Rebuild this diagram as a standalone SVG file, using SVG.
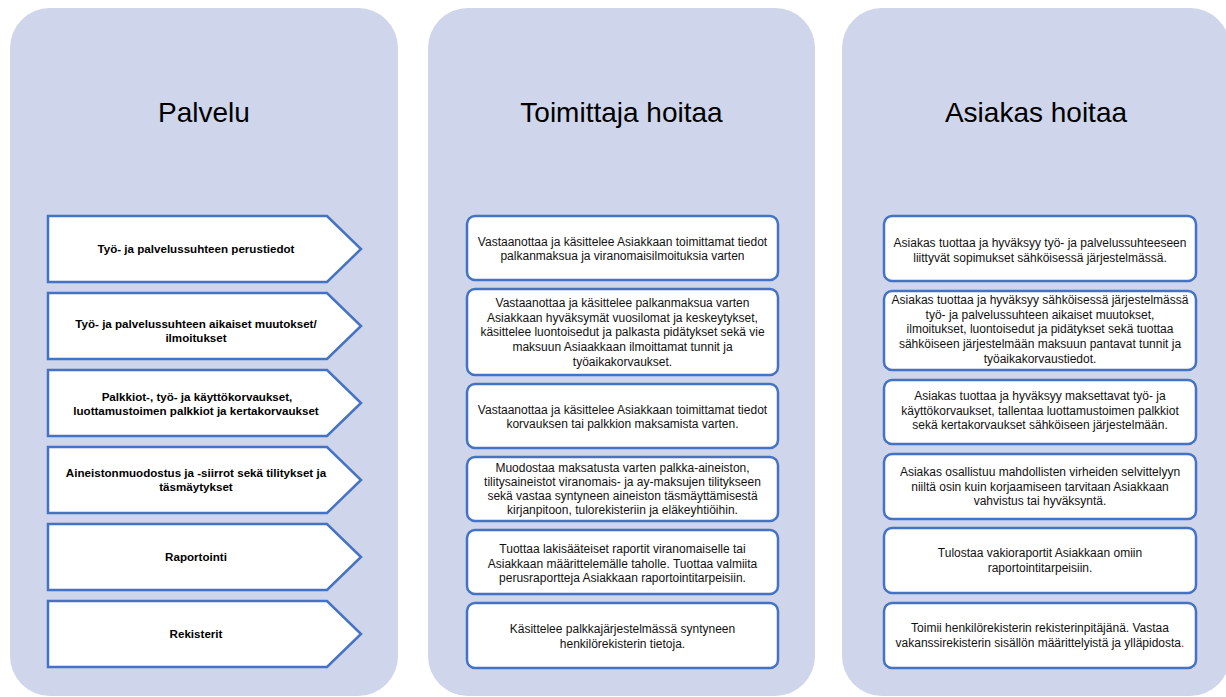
<svg xmlns="http://www.w3.org/2000/svg" width="1226" height="697" viewBox="0 0 1226 697">
<style>
.panel{fill:#CFD5EA}
.title{font-family:"Liberation Sans",Arial,sans-serif;font-size:28px;fill:#000;text-anchor:middle}
.arrow{fill:#fff;stroke:#4472C4;stroke-width:2.5;stroke-linejoin:miter}
.box{fill:#fff;stroke:#4472C4;stroke-width:2.5}
.at{font-family:"Liberation Sans",Arial,sans-serif;font-size:11.6px;font-weight:bold;fill:#000;text-anchor:middle}
.bt{font-family:"Liberation Sans",Arial,sans-serif;font-size:12px;fill:#111;text-anchor:middle}
.red{fill:#FF0000}
</style>
<rect width="1226" height="697" fill="#fff"/>
<g id="panel-palvelu">
<rect class="panel" x="10" y="8" width="388" height="688" rx="40"/>
<text class="title" x="204" y="122">Palvelu</text>
</g>
<g id="panel-toimittaja">
<rect class="panel" x="428" y="8" width="387" height="688" rx="40"/>
<text class="title" x="621.5" y="122">Toimittaja hoitaa</text>
</g>
<g id="panel-asiakas">
<rect class="panel" x="842" y="8" width="388" height="688" rx="40"/>
<text class="title" x="1036" y="122">Asiakas hoitaa</text>
</g>
<g id="connectors"/>
<g id="p1">
<polygon class="arrow" points="48,216 327,216 361,249 327,282 48,282"/>
<text class="at" x="196" y="253">Työ- ja palvelussuhteen perustiedot</text>
</g>
<g id="p2">
<polygon class="arrow" points="48,293 327,293 361,326 327,359 48,359"/>
<text class="at" x="196" y="328">Työ- ja palvelussuhteen aikaiset muutokset/</text>
<text class="at" x="196" y="342">ilmoitukset</text>
</g>
<g id="p3">
<polygon class="arrow" points="48,370 327,370 361,403 327,436 48,436"/>
<text class="at" x="197" y="401">Palkkiot-, työ- ja käyttökorvaukset,</text>
<text class="at" x="196" y="415">luottamustoimen palkkiot ja kertakorvaukset</text>
</g>
<g id="p4">
<polygon class="arrow" points="48,447 327,447 361,480 327,513 48,513"/>
<text class="at" x="196" y="477">Aineistonmuodostus ja -siirrot sekä tilitykset ja</text>
<text class="at" x="196" y="491">täsmäytykset</text>
</g>
<g id="p5">
<polygon class="arrow" points="48,524 327,524 361,557 327,590 48,590"/>
<text class="at" x="196" y="561">Raportointi</text>
</g>
<g id="p6">
<polygon class="arrow" points="48,601 327,601 361,634 327,667 48,667"/>
<text class="at" x="196" y="638">Rekisterit</text>
</g>
<g id="t1">
<rect class="box" x="467" y="216" width="311" height="64" rx="8"/>
<text class="bt" x="622.5" y="245.5">Vastaanottaa ja käsittelee Asiakkaan toimittamat tiedot</text>
<text class="bt" x="622.5" y="259.5">palkanmaksua ja viranomaisilmoituksia varten</text>
</g>
<g id="t2">
<rect class="box" x="467" y="289" width="311" height="86" rx="8"/>
<text class="bt" x="622.5" y="307">Vastaanottaa ja käsittelee palkanmaksua varten</text>
<text class="bt" x="622.5" y="321.7">Asiakkaan hyväksymät vuosilomat ja keskeytykset,</text>
<text class="bt" x="622.5" y="336.4">käsittelee luontoisedut ja palkasta pidätykset sekä vie</text>
<text class="bt" x="622.5" y="351.1">maksuun Asiaakkaan ilmoittamat tunnit ja</text>
<text class="bt" x="622.5" y="365.8">työaikakorvaukset.</text>
</g>
<g id="t3">
<rect class="box" x="467" y="384" width="311" height="64" rx="8"/>
<text class="bt" x="622.5" y="413.5">Vastaanottaa ja käsittelee Asiakkaan toimittamat tiedot</text>
<text class="bt" x="622.5" y="428">korvauksen tai palkkion maksamista varten.</text>
</g>
<g id="t4">
<rect class="box" x="467" y="457" width="311" height="64" rx="8"/>
<text class="bt" x="622.5" y="472">Muodostaa maksatusta varten palkka-aineiston,</text>
<text class="bt" x="622.5" y="486">tilitysaineistot viranomais- ja ay-maksujen tilitykseen</text>
<text class="bt" x="622.5" y="500">sekä vastaa syntyneen aineiston täsmäyttämisestä</text>
<text class="bt" x="622.5" y="514">kirjanpitoon, tulorekisteriin ja eläkeyhtiöihin.</text>
</g>
<g id="t5">
<rect class="box" x="467" y="530" width="311" height="64" rx="8"/>
<text class="bt" x="622.5" y="553">Tuottaa lakisääteiset raportit viranomaiselle tai</text>
<text class="bt" x="622.5" y="567.5">Asiakkaan määrittelemälle taholle. Tuottaa valmiita</text>
<text class="bt" x="622.5" y="582">perusraportteja Asiakkaan raportointitarpeisiin.</text>
</g>
<g id="t6">
<rect class="box" x="467" y="603" width="311" height="65" rx="8"/>
<text class="bt" x="622.5" y="633">Käsittelee palkkajärjestelmässä syntyneen</text>
<text class="bt" x="622.5" y="647.5">henkilörekisterin tietoja.</text>
</g>
<g id="a1">
<rect class="box" x="884" y="216" width="312" height="65" rx="8"/>
<text class="bt" x="1040" y="247">Asiakas tuottaa ja hyväksyy työ- ja palvelussuhteeseen</text>
<text class="bt" x="1040" y="261.5">liittyvät sopimukset sähköisessä järjestelmässä.</text>
</g>
<g id="a2">
<rect class="box" x="884" y="291" width="312" height="79" rx="8"/>
<text class="bt" x="1040" y="304">Asiakas tuottaa ja hyväksyy sähköisessä järjestelmässä</text>
<text class="bt" x="1040" y="318.7">työ- ja palvelussuhteen aikaiset muutokset,</text>
<text class="bt" x="1040" y="333.4">ilmoitukset, luontoisedut ja pidätykset sekä tuottaa</text>
<text class="bt" x="1040" y="348.1">sähköiseen järjestelmään maksuun pantavat tunnit ja</text>
<text class="bt" x="1040" y="362.8">työaikakorvaustiedot.</text>
</g>
<g id="a3">
<rect class="box" x="884" y="380" width="312" height="64" rx="8"/>
<text class="bt" x="1040" y="400">Asiakas tuottaa ja hyväksyy maksettavat työ- ja</text>
<text class="bt" x="1040" y="414.5">käyttökorvaukset, tallentaa luottamustoimen palkkiot</text>
<text class="bt" x="1040" y="429">sekä kertakorvaukset sähköiseen järjestelmään.</text>
</g>
<g id="a4">
<rect class="box" x="884" y="454" width="312" height="65" rx="8"/>
<text class="bt" x="1040" y="476">Asiakas osallistuu mahdollisten virheiden selvittelyyn</text>
<text class="bt" x="1040" y="490.5">niiltä osin kuin korjaamiseen tarvitaan Asiakkaan</text>
<text class="bt" x="1040" y="505">vahvistus tai hyväksyntä.</text>
</g>
<g id="a5">
<rect class="box" x="884" y="528" width="312" height="65" rx="8"/>
<text class="bt" x="1040" y="557">Tulostaa vakioraportit Asiakkaan omiin</text>
<text class="bt" x="1040" y="571.5">raportointitarpeisiin.</text>
</g>
<g id="a6">
<rect class="box" x="884" y="603" width="312" height="65" rx="8"/>
<text class="bt" x="1040" y="632">Toimii henkilörekisterin rekisterinpitäjänä. Vastaa</text>
<text class="bt" x="1040" y="646.5">vakanssirekisterin sisällön määrittelyistä ja ylläpidosta<tspan class="red">.</tspan></text>
</g>
</svg>
